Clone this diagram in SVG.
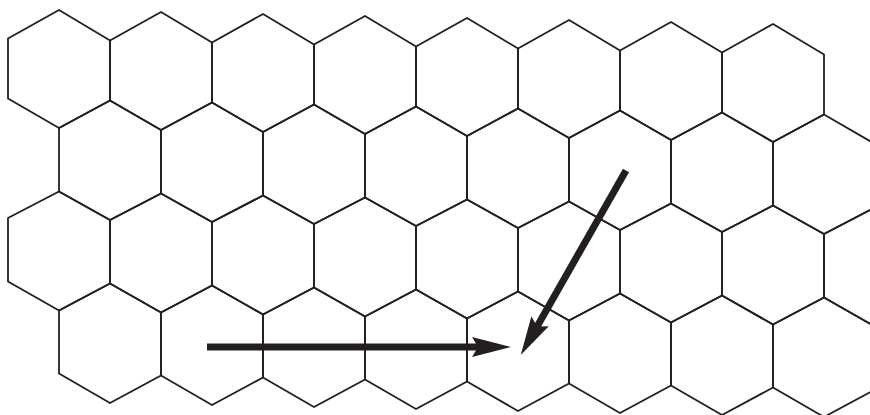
<svg xmlns="http://www.w3.org/2000/svg" xmlns:xlink="http://www.w3.org/1999/xlink" width="870" height="415" viewBox="0 0 870 415">
  <style>
    .hex { fill: none; stroke: #231f20; stroke-width: 1.8; stroke-linejoin: miter; }
    .arrow { fill: none; stroke: #231f20; stroke-width: 7; stroke-linecap: butt; }
  </style>
  <defs>
    <path id="h0" class="hex" d="M51,9 L102,38.5 L102,98.5 L51,127 L0,98.5 L0,38.5 Z"/>
    <path id="h1" class="hex" d="M51,98.5 L102,127 L102,190.5 L51,218 L0,190.5 L0,127 Z"/>
    <path id="h2" class="hex" d="M51,190.5 L102,218 L102,281.5 L51,309.5 L0,281.5 L0,218 Z"/>
    <path id="h3" class="hex" d="M51,281.5 L102,309.5 L102,372.5 L51,401 L0,372.5 L0,309.5 Z"/>
    <marker id="head" markerUnits="userSpaceOnUse" markerWidth="40" markerHeight="20" viewBox="0 0 40 20" refX="6" refY="10" orient="auto">
      <path d="M0,0 L39,10 L0,20 L6,10 Z" fill="#231f20"/>
    </marker>
  </defs>
  <rect width="870" height="415" fill="#ffffff"/>
  <g id="grid" transform="matrix(1 0.0196078 0 1 0 -0.156863)">
    <g id="row1">
      <use xlink:href="#h0" x="8"/><use xlink:href="#h0" x="110"/><use xlink:href="#h0" x="212"/><use xlink:href="#h0" x="314"/>
      <use xlink:href="#h0" x="416"/><use xlink:href="#h0" x="518"/><use xlink:href="#h0" x="620"/><use xlink:href="#h0" x="722"/>
    </g>
    <g id="row2">
      <use xlink:href="#h1" x="59"/><use xlink:href="#h1" x="161"/><use xlink:href="#h1" x="263"/><use xlink:href="#h1" x="365"/>
      <use xlink:href="#h1" x="467"/><use xlink:href="#h1" x="569"/><use xlink:href="#h1" x="671"/><use xlink:href="#h1" x="773"/>
    </g>
    <g id="row3">
      <use xlink:href="#h2" x="8"/><use xlink:href="#h2" x="110"/><use xlink:href="#h2" x="212"/><use xlink:href="#h2" x="314"/>
      <use xlink:href="#h2" x="416"/><use xlink:href="#h2" x="518"/><use xlink:href="#h2" x="620"/><use xlink:href="#h2" x="722"/>
      <use xlink:href="#h2" x="824"/>
    </g>
    <g id="row4">
      <use xlink:href="#h3" x="59"/><use xlink:href="#h3" x="161"/><use xlink:href="#h3" x="263"/><use xlink:href="#h3" x="365"/>
      <use xlink:href="#h3" x="467"/><use xlink:href="#h3" x="569"/><use xlink:href="#h3" x="671"/><use xlink:href="#h3" x="773"/>
    </g>
  </g>
  <g id="connectors">
    <line class="arrow" x1="207" y1="347" x2="478" y2="347" marker-end="url(#head)"/>
    <line class="arrow" x1="626" y1="170.5" x2="537.1" y2="326.4" marker-end="url(#head)"/>
  </g>
</svg>
